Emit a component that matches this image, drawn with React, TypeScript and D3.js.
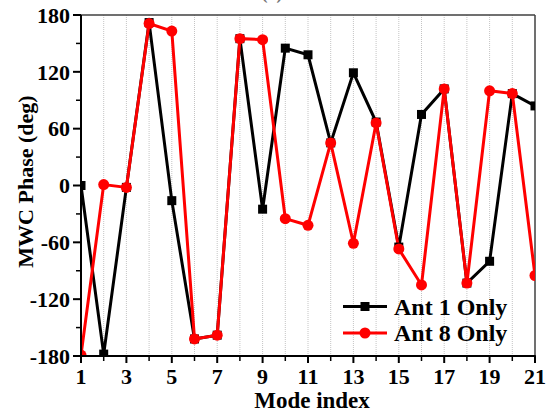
import React from "react";
import * as d3 from "d3";

// Mode indices and MWC phase values (degrees) for each excitation case
const modeIndex = [1, 2, 3, 4, 5, 6, 7, 8, 9, 10, 11, 12, 13, 14, 15, 16, 17, 18, 19, 20, 21];
const ant1Phase = [0, -178, -2, 172, -16, -162, -158, 155, -25, 145, 138, 45, 119, 67, -65, 75, 102, -103, -80, 97, 84];
const ant8Phase = [-179, 1, -2, 171, 163, -162, -158, 155, 154, -35, -42, 45, -61, 66, -67, -105, 102, -103, 100, 97, -95];

const xTickValues = [1, 3, 5, 7, 9, 11, 13, 15, 17, 19, 21];
const yTickValues = [-180, -120, -60, 0, 60, 120, 180];
const seriesNames = ["Ant 1 Only", "Ant 8 Only"];

const W = 557;
const H = 415;
const M = { left: 81, right: 535, top: 15, bottom: 356 };
const FONT = "'Liberation Serif', 'Times New Roman', serif";

export default function App() {
  const x = d3.scaleLinear().domain([1, 21]).range([M.left, M.right]);
  const y = d3.scaleLinear().domain([-180, 180]).range([M.bottom, M.top]);

  const line = d3
    .line<number>()
    .x((_, i) => x(modeIndex[i]))
    .y((d) => y(d));

  const gridX = d3.range(2, 21);
  const minorX = d3.range(2, 21, 2);
  const minorY = d3.range(-150, 180, 60);

  const legendX = 343;
  const legendRows = [306.5, 333];

  return (
    <svg
      width={W}
      height={H}
      style={{ position: "absolute", left: 0, top: 0, background: "#fff" }}
      fontFamily={FONT}
      fontWeight="bold"
    >
      <defs>
        <clipPath id="plot-clip">
          <rect x={M.left} y={M.top} width={M.right - M.left} height={M.bottom - M.top} />
        </clipPath>
      </defs>

      {/* panel label sitting above the frame */}
      <text x={272} y={-1} textAnchor="middle" fontSize={18} fill="#777">
        (a)
      </text>

      {/* vertical dotted grid */}
      {gridX.map((v) => (
        <line
          key={"g" + v}
          x1={x(v)}
          x2={x(v)}
          y1={M.top}
          y2={M.bottom}
          stroke="#c4c4c4"
          strokeWidth={1}
          strokeDasharray="1,1"
        />
      ))}

      {/* frame */}
      <line x1={M.left} x2={M.right} y1={M.top} y2={M.top} stroke="#404040" strokeWidth={1.5} />
      <line x1={M.right} x2={M.right} y1={M.top} y2={M.bottom} stroke="#404040" strokeWidth={1.5} />

      <g clipPath="url(#plot-clip)">
        <path d={line(ant1Phase) || ""} fill="none" stroke="#000" strokeWidth={3} strokeLinejoin="miter" />
        <path d={line(ant8Phase) || ""} fill="none" stroke="#ff0000" strokeWidth={3} strokeLinejoin="miter" />
        {ant1Phase.map((v, i) => (
          <rect key={"s" + i} x={x(modeIndex[i]) - 4.5} y={y(v) - 4.5} width={9} height={9} fill="#000" />
        ))}
        {ant8Phase.map((v, i) => (
          <circle key={"c" + i} cx={x(modeIndex[i])} cy={y(v)} r={5.5} fill="#ff0000" />
        ))}
      </g>

      {/* axes */}
      <line x1={M.left} x2={M.left} y1={M.top} y2={M.bottom + 1} stroke="#000" strokeWidth={2} />
      <line x1={M.left - 1} x2={M.right + 0.75} y1={M.bottom} y2={M.bottom} stroke="#000" strokeWidth={2} />

      {yTickValues.map((v) => (
        <g key={"yt" + v}>
          <line x1={M.left - 8} x2={M.left} y1={y(v)} y2={y(v)} stroke="#000" strokeWidth={2} />
          <text x={70} y={y(v)} dy="0.35em" textAnchor="end" fontSize={22} fill="#000">
            {v}
          </text>
        </g>
      ))}
      {minorY.map((v) => (
        <line key={"ym" + v} x1={M.left - 5} x2={M.left} y1={y(v)} y2={y(v)} stroke="#000" strokeWidth={1.5} />
      ))}

      {xTickValues.map((v) => (
        <g key={"xt" + v}>
          <line x1={x(v)} x2={x(v)} y1={M.bottom} y2={M.bottom + 7} stroke="#000" strokeWidth={2} />
          <text x={x(v)} y={384} textAnchor="middle" fontSize={22} fill="#000">
            {v}
          </text>
        </g>
      ))}
      {minorX.map((v) => (
        <line key={"xm" + v} x1={x(v)} x2={x(v)} y1={M.bottom} y2={M.bottom + 5} stroke="#000" strokeWidth={1.5} />
      ))}

      <text x={312} y={408} textAnchor="middle" fontSize={23} fill="#000">
        Mode index
      </text>
      <text
        transform={`translate(33, ${(M.top + M.bottom) / 2 - 4}) rotate(-90)`}
        textAnchor="middle"
        fontSize={22}
        fill="#000"
      >
        MWC Phase (deg)
      </text>

      {/* legend */}
      {seriesNames.map((name, i) => {
        const color = i === 0 ? "#000" : "#ff0000";
        const ly = legendRows[i];
        return (
          <g key={name}>
            <line x1={legendX} x2={legendX + 44} y1={ly} y2={ly} stroke={color} strokeWidth={3} />
            {i === 0 ? (
              <rect x={legendX + 22 - 4.5} y={ly - 4.5} width={9} height={9} fill={color} />
            ) : (
              <circle cx={legendX + 22} cy={ly} r={5.5} fill={color} />
            )}
            <text x={394} y={ly} dy="0.35em" fontSize={24} fill="#000">
              {name}
            </text>
          </g>
        );
      })}
    </svg>
  );
}
